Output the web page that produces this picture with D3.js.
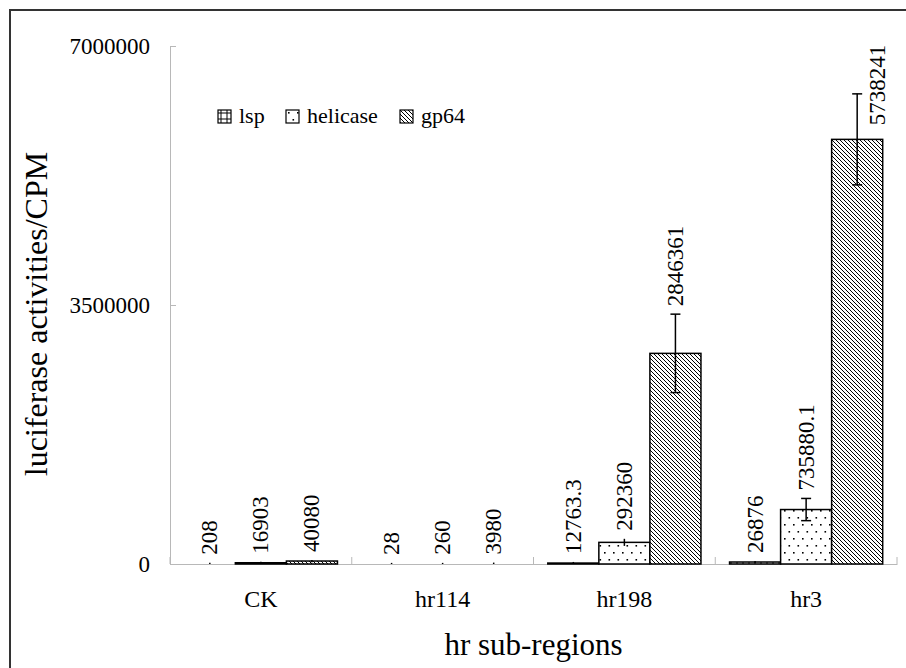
<!DOCTYPE html>
<html>
<head>
<meta charset="utf-8">
<style>
  body { margin: 0; background: white; }
  svg text { font-family: "Liberation Serif", "Times New Roman", serif; }
  .axis path, .axis line { stroke: #b8b8b8; }
</style>
</head>
<body>
<script src="https://d3js.org/d3.v7.min.js"></script>
<div id="chart"></div>
<script>

// chart data
var categories = ["CK", "hr114", "hr198", "hr3"];
var seriesNames = ["lsp", "helicase", "gp64"];
var lspValues      = [208, 28, 12763.3, 26876];
var helicaseValues = [16903, 260, 292360, 735880.1];
var gp64Values     = [40080, 3980, 2846361, 5738241];
var lspErrors      = [15000, 15000, 15000, 15000];
var helicaseErrors = [15000, 15000, 48000, 150000];
var gp64Errors     = [15000, 15000, 530000, 615000];
var labelTexts = [
  ["208", "16903", "40080"],
  ["28", "260", "3980"],
  ["12763.3", "292360", "2846361"],
  ["26876", "735880.1", "5738241"]
];
var yTicks = [0, 3500000, 7000000];

var width = 906, height = 668;
var margin = {top: 46, right: 9, bottom: 104, left: 170};
var plotW = width - margin.left - margin.right,
    plotH = height - margin.top - margin.bottom;

var svg = d3.select("#chart").append("svg")
  .attr("width", width)
  .attr("height", height);

// patterns
var defs = svg.append("defs");
var grid = defs.append("pattern").attr("id", "pat-lsp")
  .attr("patternUnits", "userSpaceOnUse").attr("width", 6).attr("height", 6);
grid.append("rect").attr("width", 6).attr("height", 6).attr("fill", "white");
grid.append("path").attr("d", "M0,3H6M3,0V6").attr("stroke", "black").attr("stroke-width", 1);

var dots = defs.append("pattern").attr("id", "pat-helicase")
  .attr("patternUnits", "userSpaceOnUse").attr("width", 9).attr("height", 14);
dots.append("rect").attr("width", 9).attr("height", 14).attr("fill", "white");
dots.append("rect").attr("x", 2).attr("y", 2).attr("width", 1.6).attr("height", 1.6).attr("fill", "black");
dots.append("rect").attr("x", 6.5).attr("y", 9).attr("width", 1.6).attr("height", 1.6).attr("fill", "black");

var hatch = defs.append("pattern").attr("id", "pat-gp64")
  .attr("patternUnits", "userSpaceOnUse").attr("width", 4).attr("height", 4);
hatch.append("rect").attr("width", 4).attr("height", 4).attr("fill", "white");
hatch.append("path").attr("d", "M-1,-1L5,5M-1,3L1,5M3,-1L5,1")
  .attr("stroke", "black").attr("stroke-width", 1);

// outer frame (only left and top edges are in the picture)
svg.append("path")
  .attr("d", "M10," + height + "V10H" + width)
  .attr("fill", "none").attr("stroke", "#333").attr("stroke-width", 2);

var g = svg.append("g")
  .attr("transform", "translate(" + margin.left + "," + margin.top + ")");

var x0 = d3.scaleBand().domain(categories).range([0, plotW]).padding(0);
var x1 = d3.scaleBand().domain(seriesNames).range([0, x0.bandwidth()])
  .paddingInner(0).paddingOuter(0.28);
var y = d3.scaleLinear().domain([0, 7000000]).range([plotH, 0]);

// y axis
g.append("g").attr("class", "axis")
  .call(d3.axisLeft(y).tickValues(yTicks).tickSizeInner(-6).tickSizeOuter(0)
    .tickPadding(20).tickFormat(d3.format("d")))
  .attr("font-family", null).attr("font-size", null)
  .call(function(a) {
    a.selectAll("text").attr("fill", "black").style("font-size", "23px");
  });

// x axis
var xAxis = g.append("g").attr("class", "axis")
  .attr("transform", "translate(0," + plotH + ")")
  .call(d3.axisBottom(x0).tickSize(0).tickPadding(26))
  .attr("font-family", null).attr("font-size", null)
  .call(function(a) {
    a.selectAll("text").attr("fill", "black").style("font-size", "24px");
  });
var bounds = categories.map(function(c) { return x0(c); }).concat([plotW]);
xAxis.selectAll(".bound").data(bounds).enter().append("line")
  .attr("class", "bound")
  .attr("x1", function(d) { return d; }).attr("x2", function(d) { return d; })
  .attr("y1", 0).attr("y2", -7)
  .attr("stroke", "#b8b8b8");

// bars
var rows = [];
categories.forEach(function(c, i) {
  [lspValues, helicaseValues, gp64Values].forEach(function(vals, j) {
    var errs = [lspErrors, helicaseErrors, gp64Errors][j];
    rows.push({cat: c, s: seriesNames[j], v: vals[i], e: errs[i], label: labelTexts[i][j]});
  });
});

var barG = g.append("g");
barG.selectAll("rect").data(rows.filter(function(d) { return plotH - y(d.v) >= 0.5; }))
  .enter().append("rect")
  .attr("x", function(d) { return x0(d.cat) + x1(d.s); })
  .attr("y", function(d) { return y(d.v); })
  .attr("width", x1.bandwidth())
  .attr("height", function(d) { return plotH - y(d.v); })
  .attr("fill", function(d) { return "url(#pat-" + d.s + ")"; })
  .attr("stroke", "black").attr("stroke-width", 1.5);

// error bars
var errG = g.append("g").attr("stroke", "black").attr("stroke-width", 1.5);
rows.forEach(function(d) {
  var cx = x0(d.cat) + x1(d.s) + x1.bandwidth() / 2;
  var lo = Math.max(0, d.v - d.e);
  errG.append("line").attr("x1", cx).attr("x2", cx)
    .attr("y1", y(d.v + d.e)).attr("y2", y(lo));
  if (d.e > 100000) {
    errG.append("line").attr("x1", cx - 5).attr("x2", cx + 5)
      .attr("y1", y(d.v + d.e)).attr("y2", y(d.v + d.e));
    errG.append("line").attr("x1", cx - 5).attr("x2", cx + 5)
      .attr("y1", y(lo)).attr("y2", y(lo));
  }
});

// value labels
var fs = 23, charW = fs * 0.5;
g.append("g").selectAll("text").data(rows).enter().append("text")
  .attr("transform", function(d) {
    var cx = x0(d.cat) + x1(d.s) + x1.bandwidth() / 2;
    var top = y(d.v + d.e) - 8;
    // labels that would run past the top of the plot sit beside the error bar
    if (top - d.label.length * charW < 0) {
      cx += 20;
      top = y(d.v) - 14;
    }
    return "translate(" + cx + "," + top + ") rotate(-90)";
  })
  .attr("dominant-baseline", "central")
  .style("font-size", fs + "px")
  .text(function(d) { return d.label; });

// legend
var legend = svg.append("g").attr("transform", "translate(218,110)");
var legX = [0, 68, 182];
seriesNames.forEach(function(s, i) {
  var lg = legend.append("g").attr("transform", "translate(" + legX[i] + ",0)");
  lg.append("rect").attr("width", 13).attr("height", 13)
    .attr("fill", "url(#pat-" + s + ")").attr("stroke", "black").attr("stroke-width", 1.2);
  lg.append("text").attr("x", 21).attr("y", 13)
    .style("font-size", "22px").text(s);
});

// axis titles
svg.append("text")
  .attr("transform", "translate(47,314) rotate(-90)")
  .attr("text-anchor", "middle")
  .style("font-size", "32px")
  .text("luciferase activities/CPM");

svg.append("text")
  .attr("x", margin.left + plotW / 2).attr("y", 655)
  .attr("text-anchor", "middle")
  .style("font-size", "31px")
  .text("hr sub-regions");

</script>
</body>
</html>
